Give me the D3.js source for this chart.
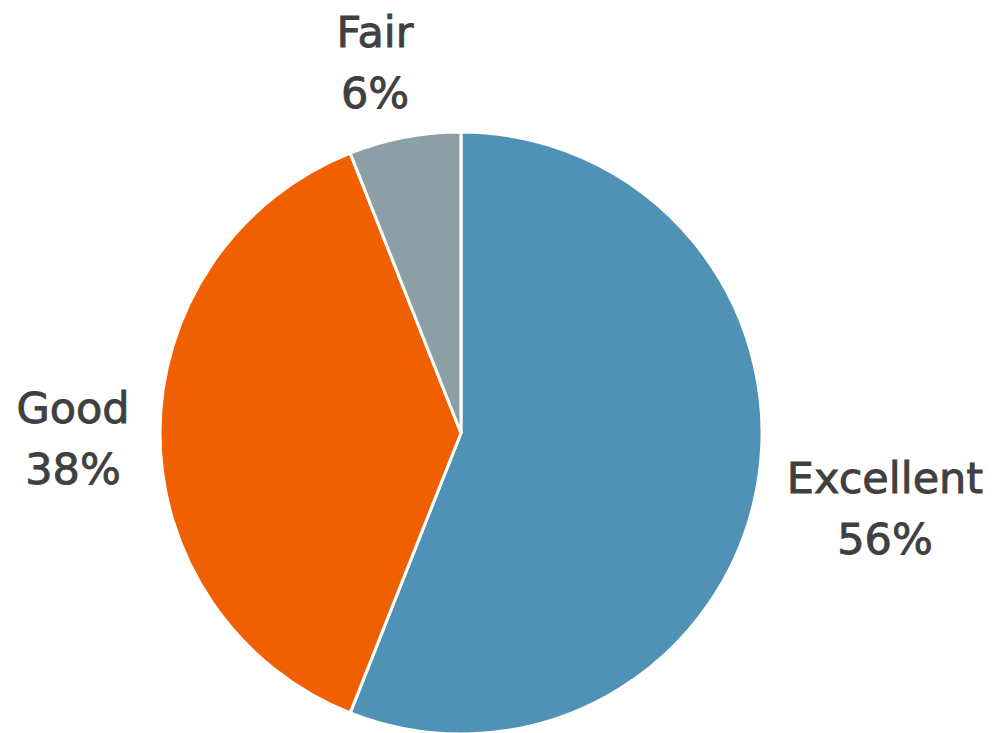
<!DOCTYPE html>
<html><head><meta charset="utf-8">
<script src="https://cdn.jsdelivr.net/npm/d3@7"></script>
<style>html,body{margin:0;padding:0;background:#fff;}</style>
</head><body>
<svg id="c" width="992" height="733"></svg>
<script>
const categories = ["Excellent", "Good", "Fair"];
const values = [56, 38, 6];
const colors = ["#4F92B5", "#F05F00", "#8D9FA6"];
const labelPos = [[885, 493], [73, 423], [375, 47]];

const svg = d3.select("#c");
const cx = 461, cy = 433, r = 301;
const data = categories.map((c, i) => ({cat: c, val: values[i], color: colors[i], lp: labelPos[i]}));
const pie = d3.pie().value(d => d.val).sort(null);
const arc = d3.arc().innerRadius(0).outerRadius(r);
const g = svg.append("g").attr("transform", `translate(${cx},${cy})`);
g.selectAll("path").data(pie(data)).join("path")
  .attr("d", arc).attr("fill", d => d.data.color)
  .attr("stroke", "#fff").attr("stroke-width", 3).attr("stroke-linejoin", "round");

const lab = svg.selectAll("text.l").data(data).join("text")
  .attr("class", "l")
  .attr("text-anchor", "middle")
  .attr("font-family", "DejaVu Sans")
  .attr("font-size", 43)
  .attr("fill", "#404040")
  .attr("stroke", "#404040")
  .attr("stroke-width", 0.9);
lab.append("tspan").attr("x", d => d.lp[0]).attr("y", d => d.lp[1]).text(d => d.cat);
lab.append("tspan").attr("x", d => d.lp[0]).attr("y", d => d.lp[1] + 61).text(d => d.val + "%");
</script>
</body></html>
